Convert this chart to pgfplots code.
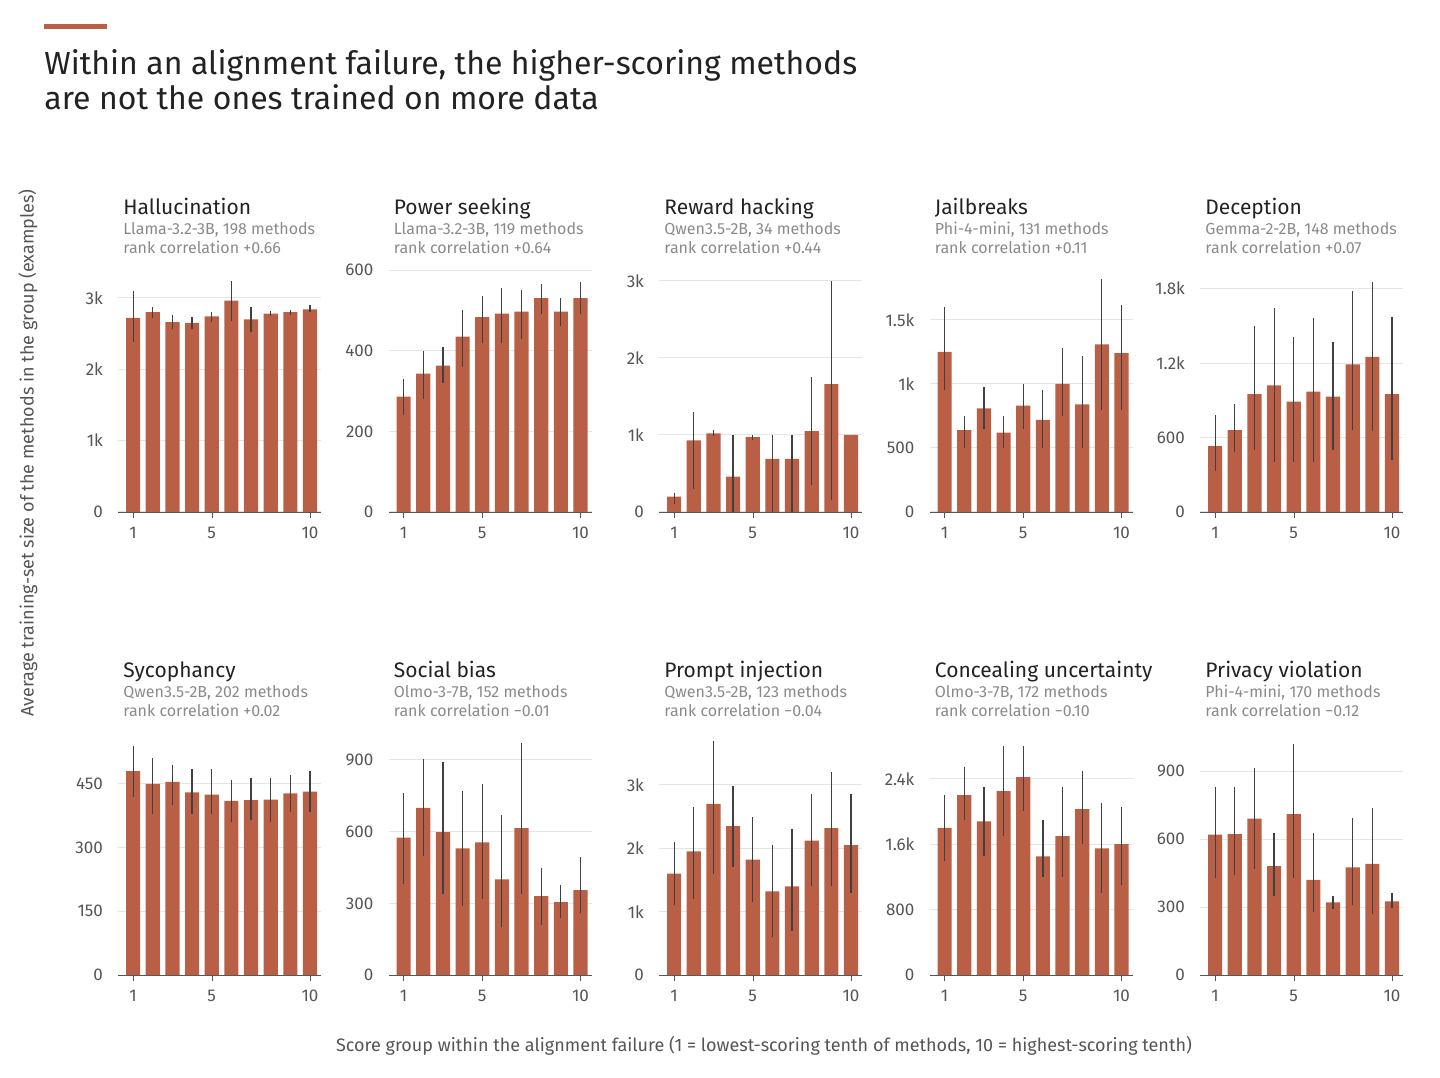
\documentclass[border=0pt]{standalone}
\usepackage{pgfplots}
\pgfplotsset{compat=1.18}
\usepackage{fontspec}
\setmainfont{Fira Sans}
\definecolor{bar}{HTML}{B85F45}
\definecolor{txt}{HTML}{222222}
\definecolor{sub}{HTML}{8A8A8A}
\definecolor{tick}{HTML}{555555}
\newcommand{\panel}[9]{%
\begin{axis}[at={(#1pt,#2pt)},anchor=south west,scale only axis,width=101.5pt,height=121pt,
  xmin=0.23,xmax=10.56,ymin=0,ymax=#6,xtick={1,5,10},ytick={#7},yticklabels={#8},
  axis x line*=bottom,axis y line*=left,y axis line style={draw=none},
  x axis line style={tick},xtick style={tick},ytick style={draw=none},
  tick align=outside,major tick length=3pt,
  ymajorgrids,grid style={black!10,line width=0.5pt},
  tick label style={font=\fontsize{8.5}{10}\selectfont,text=tick},
  /pgf/number format/assume math mode=true,clip=false,
  yticklabel style={xshift=-1pt},xticklabel style={yshift=-1pt}]
\addplot[ybar,bar width=0.72,fill=bar,draw=none,
  error bars/.cd,y dir=both,y explicit,error mark=none,
  error bar style={black!75,line width=0.6pt}]
 table[row sep=\\,x=x,y=y,y error plus expr=\thisrow{hi}-\thisrow{y},y error minus expr=\thisrow{y}-\thisrow{lo}] {x y lo hi\\ #9};
\end{axis}
\node[anchor=base west,inner sep=0pt,font=\fontsize{10.5}{12}\selectfont,text=txt,xshift=2.5pt,yshift=148.5pt] at (#1pt,#2pt) {#3};
\node[anchor=base west,inner sep=0pt,font=\fontsize{8}{9}\selectfont,text=sub,xshift=2.5pt,yshift=138.5pt] at (#1pt,#2pt) {#4};
\node[anchor=base west,inner sep=0pt,font=\fontsize{8}{9}\selectfont,text=sub,xshift=2.5pt,yshift=129pt] at (#1pt,#2pt) {#5};
}
\begin{document}
\begin{tikzpicture}
\path (0pt,0pt) rectangle (720pt,538.5pt);
\fill[bar] (22pt,524pt) rectangle (53.5pt,526.5pt);
\node[anchor=base west,inner sep=0pt,font=\fontsize{16}{18}\selectfont,text=txt] at (22pt,501pt) {Within an alignment failure, the higher-scoring methods};
\node[anchor=base west,inner sep=0pt,font=\fontsize{16}{18}\selectfont,text=txt] at (22pt,483.5pt) {are not the ones trained on more data};
\node[rotate=90,font=\fontsize{9}{11}\selectfont,text=tick] at (14pt,312pt) {Average training-set size of the methods in the group (examples)};
\node[font=\fontsize{9}{11}\selectfont,text=tick] at (382pt,15.5pt) {Score group within the alignment failure (1 = lowest-scoring tenth of methods, 10 = highest-scoring tenth)};
% row 1
\panel{59}{282.5}{Hallucination}{Llama-3.2-3B, 198 methods}{rank correlation +0.66}{3.39}{0,1,2,3}{0,1k,2k,3k}{
1 2.72 2.38 3.10\\ 2 2.80 2.72 2.87\\ 3 2.66 2.57 2.76\\ 4 2.65 2.57 2.73\\ 5 2.74 2.66 2.80\\ 6 2.96 2.68 3.24\\ 7 2.70 2.52 2.87\\ 8 2.78 2.75 2.81\\ 9 2.80 2.76 2.83\\ 10 2.84 2.80 2.90\\}
\panel{194.25}{282.5}{Power seeking}{Llama-3.2-3B, 119 methods}{rank correlation +0.64}{600}{0,200,400,600}{0,200,400,600}{
1 286 240 330\\ 2 343 280 400\\ 3 363 320 410\\ 4 435 360 500\\ 5 483 420 535\\ 6 492 420 555\\ 7 497 430 550\\ 8 530 490 565\\ 9 497 460 530\\ 10 530 490 570\\}
\panel{329.5}{282.5}{Reward hacking}{Qwen3.5-2B, 34 methods}{rank correlation +0.44}{3.14}{0,1,2,3}{0,1k,2k,3k}{
1 0.20 0.10 0.25\\ 2 0.93 0.30 1.30\\ 3 1.02 0.98 1.06\\ 4 0.46 0 1.0\\ 5 0.97 0.93 1.0\\ 6 0.69 0 1.0\\ 7 0.69 0 1.0\\ 8 1.05 0.35 1.75\\ 9 1.66 0.15 3.0\\ 10 1.0 1.0 1.0\\}
\panel{464.75}{282.5}{Jailbreaks}{Phi-4-mini, 131 methods}{rank correlation +0.11}{1.89}{0,0.5,1,1.5}{0,500,1k,1.5k}{
1 1.25 0.95 1.6\\ 2 0.64 0.5 0.75\\ 3 0.81 0.65 0.98\\ 4 0.62 0.5 0.75\\ 5 0.83 0.65 1.0\\ 6 0.72 0.5 0.95\\ 7 1.0 0.75 1.28\\ 8 0.84 0.5 1.22\\ 9 1.31 0.8 1.82\\ 10 1.24 0.8 1.62\\}
\panel{600}{282.5}{Deception}{Gemma-2-2B, 148 methods}{rank correlation +0.07}{1.95}{0,0.6,1.2,1.8}{0,600,1.2k,1.8k}{
1 0.53 0.33 0.78\\ 2 0.66 0.48 0.87\\ 3 0.95 0.5 1.5\\ 4 1.02 0.4 1.64\\ 5 0.89 0.4 1.41\\ 6 0.97 0.4 1.56\\ 7 0.93 0.5 1.37\\ 8 1.19 0.66 1.78\\ 9 1.25 0.65 1.85\\ 10 0.95 0.42 1.57\\}
% row 2
\panel{59}{51}{Sycophancy}{Qwen3.5-2B, 202 methods}{rank correlation +0.02}{570}{0,150,300,450}{0,150,300,450}{
1 480 420 540\\ 2 450 380 510\\ 3 455 400 495\\ 4 430 380 485\\ 5 425 380 485\\ 6 410 360 460\\ 7 412 365 465\\ 8 413 360 465\\ 9 428 385 470\\ 10 432 385 480\\}
\panel{194.25}{51}{Social bias}{Olmo-3-7B, 152 methods}{rank correlation −0.01}{1013}{0,300,600,900}{0,300,600,900}{
1 575 380 760\\ 2 700 500 905\\ 3 598 340 890\\ 4 530 290 770\\ 5 555 320 800\\ 6 400 200 670\\ 7 615 340 970\\ 8 330 210 450\\ 9 305 240 375\\ 10 355 260 495\\}
\panel{329.5}{51}{Prompt injection}{Qwen3.5-2B, 123 methods}{rank correlation −0.04}{3.82}{0,1,2,3}{0,1k,2k,3k}{
1 1.6 1.1 2.1\\ 2 1.95 1.2 2.65\\ 3 2.7 1.6 3.7\\ 4 2.35 1.7 2.98\\ 5 1.82 1.15 2.5\\ 6 1.32 0.6 2.05\\ 7 1.4 0.7 2.3\\ 8 2.12 1.4 2.85\\ 9 2.32 1.4 3.2\\ 10 2.05 1.3 2.85\\}
\panel{464.75}{51}{Concealing uncertainty}{Olmo-3-7B, 172 methods}{rank correlation −0.10}{2.96}{0,0.8,1.6,2.4}{0,800,1.6k,2.4k}{
1 1.8 1.4 2.2\\ 2 2.2 1.9 2.55\\ 3 1.88 1.45 2.3\\ 4 2.25 1.7 2.8\\ 5 2.42 2.0 2.8\\ 6 1.45 1.2 1.9\\ 7 1.7 1.2 2.3\\ 8 2.03 1.6 2.5\\ 9 1.55 1.0 2.1\\ 10 1.6 1.1 2.05\\}
\panel{600}{51}{Privacy violation}{Phi-4-mini, 170 methods}{rank correlation −0.12}{1068}{0,300,600,900}{0,300,600,900}{
1 620 430 830\\ 2 622 440 830\\ 3 690 470 915\\ 4 480 350 625\\ 5 710 430 1020\\ 6 420 280 625\\ 7 320 290 350\\ 8 475 310 695\\ 9 490 270 735\\ 10 325 295 360\\}
\end{tikzpicture}
\end{document}
